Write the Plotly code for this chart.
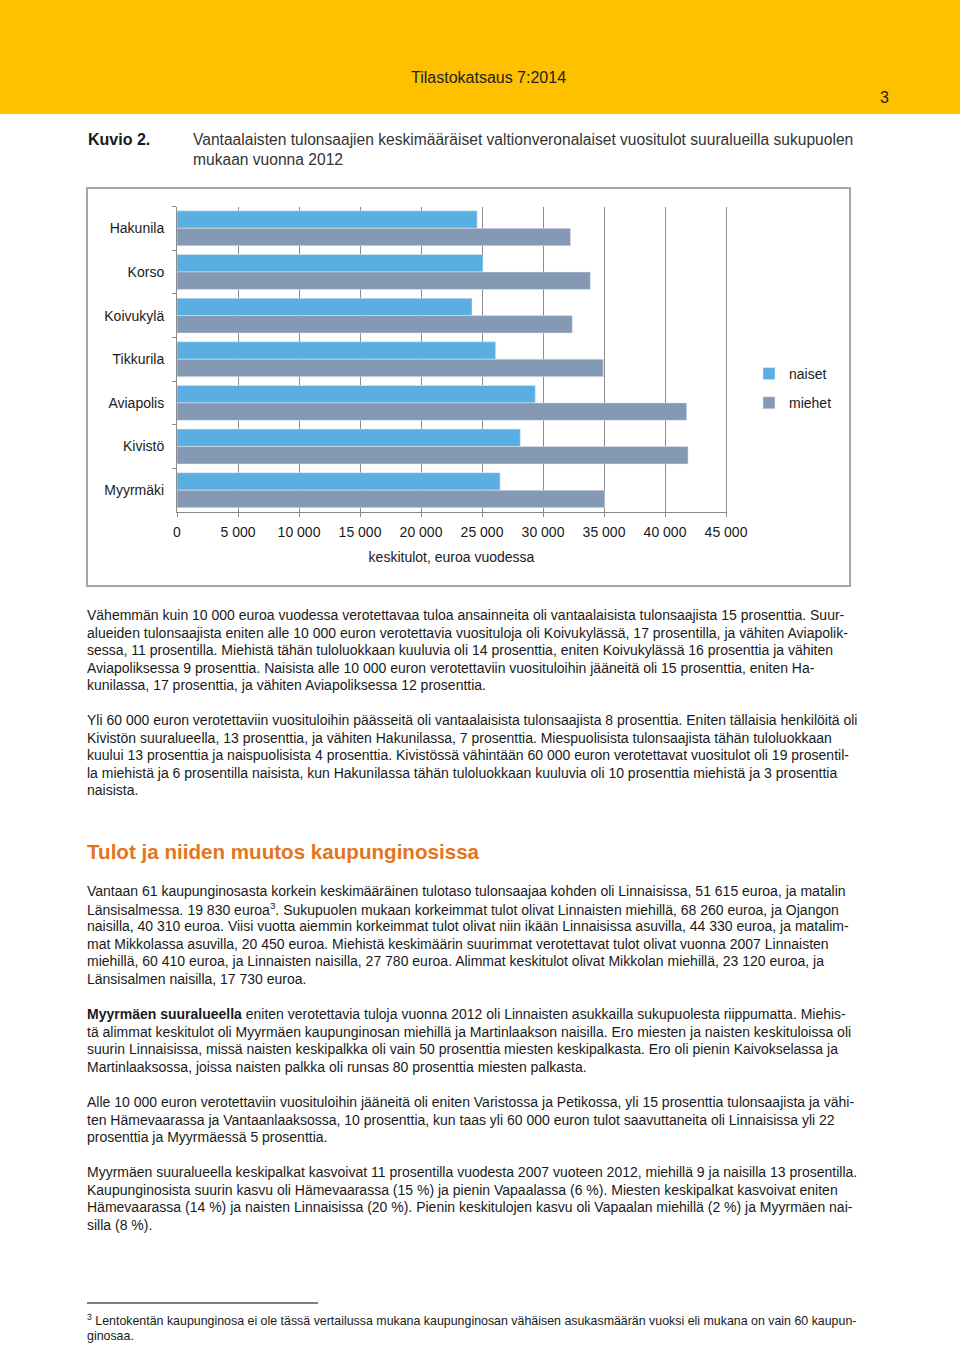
import plotly.graph_objects as go

W, H = 960, 1346

# chart data (average taxable income, euros per year, 2012)
areas = ['Hakunila', 'Korso', 'Koivukylä', 'Tikkurila', 'Aviapolis', 'Kivistö', 'Myyrmäki']
naiset = [24600, 25080, 24180, 26120, 29370, 28140, 26480]
miehet = [32260, 33880, 32400, 34940, 41780, 41890, 35050]
tick_vals = [0, 5000, 10000, 15000, 20000, 25000, 30000, 35000, 40000, 45000]
tick_labels = ['0', '5 000', '10 000', '15 000', '20 000', '25 000', '30 000', '35 000', '40 000', '45 000']

header = 'Tilastokatsaus 7:2014'
page_no = '3'
fig_label = 'Kuvio 2.'
fig_title = ['Vantaalaisten tulonsaajien keskimääräiset valtionveronalaiset vuositulot suuralueilla sukupuolen',
             'mukaan vuonna 2012']
x_title = 'keskitulot, euroa vuodessa'

para1 = ['Vähemmän kuin 10 000 euroa vuodessa verotettavaa tuloa ansainneita oli vantaalaisista tulonsaajista 15 prosenttia. Suur-',
         'alueiden tulonsaajista eniten alle 10 000 euron verotettavia vuosituloja oli Koivukylässä, 17 prosentilla, ja vähiten Aviapolik-',
         'sessa, 11 prosentilla. Miehistä tähän tuloluokkaan kuuluvia oli 14 prosenttia, eniten Koivukylässä 16 prosenttia ja vähiten',
         'Aviapoliksessa 9 prosenttia. Naisista alle 10 000 euron verotettaviin vuosituloihin jääneitä oli 15 prosenttia, eniten Ha-',
         'kunilassa, 17 prosenttia, ja vähiten Aviapoliksessa 12 prosenttia.']
para2 = ['Yli 60 000 euron verotettaviin vuosituloihin päässeitä oli vantaalaisista tulonsaajista 8 prosenttia. Eniten tällaisia henkilöitä oli',
         'Kivistön suuralueella, 13 prosenttia, ja vähiten Hakunilassa, 7 prosenttia. Miespuolisista tulonsaajista tähän tuloluokkaan',
         'kuului 13 prosenttia ja naispuolisista 4 prosenttia. Kivistössä vähintään 60 000 euron verotettavat vuositulot oli 19 prosentil-',
         'la miehistä ja 6 prosentilla naisista, kun Hakunilassa tähän tuloluokkaan kuuluvia oli 10 prosenttia miehistä ja 3 prosenttia',
         'naisista.']
heading = 'Tulot ja niiden muutos kaupunginosissa'
para3 = ['Vantaan 61 kaupunginosasta korkein keskimääräinen tulotaso tulonsaajaa kohden oli Linnaisissa, 51 615 euroa, ja matalin',
         'Länsisalmessa. 19 830 euroa<sup>3</sup>. Sukupuolen mukaan korkeimmat tulot olivat Linnaisten miehillä, 68 260 euroa, ja Ojangon',
         'naisilla, 40 310 euroa. Viisi vuotta aiemmin korkeimmat tulot olivat niin ikään Linnaisissa asuvilla, 44 330 euroa, ja matalim-',
         'mat Mikkolassa asuvilla, 20 450 euroa. Miehistä keskimäärin suurimmat verotettavat tulot olivat vuonna 2007 Linnaisten',
         'miehillä, 60 410 euroa, ja Linnaisten naisilla, 27 780 euroa. Alimmat keskitulot olivat Mikkolan miehillä, 23 120 euroa, ja',
         'Länsisalmen naisilla, 17 730 euroa.']
para4 = ['<b>Myyrmäen suuralueella</b> eniten verotettavia tuloja vuonna 2012 oli Linnaisten asukkailla sukupuolesta riippumatta. Miehis-',
         'tä alimmat keskitulot oli Myyrmäen kaupunginosan miehillä ja Martinlaakson naisilla. Ero miesten ja naisten keskituloissa oli',
         'suurin Linnaisissa, missä naisten keskipalkka oli vain 50 prosenttia miesten keskipalkasta. Ero oli pienin Kaivokselassa ja',
         'Martinlaaksossa, joissa naisten palkka oli runsas 80 prosenttia miesten palkasta.']
para5 = ['Alle 10 000 euron verotettaviin vuosituloihin jääneitä oli eniten Varistossa ja Petikossa, yli 15 prosenttia tulonsaajista ja vähi-',
         'ten Hämevaarassa ja Vantaanlaaksossa, 10 prosenttia, kun taas yli 60 000 euron tulot saavuttaneita oli Linnaisissa yli 22',
         'prosenttia ja Myyrmäessä 5 prosenttia.']
para6 = ['Myyrmäen suuralueella keskipalkat kasvoivat 11 prosentilla vuodesta 2007 vuoteen 2012, miehillä 9 ja naisilla 13 prosentilla.',
         'Kaupunginosista suurin kasvu oli Hämevaarassa (15 %) ja pienin Vapaalassa (6 %). Miesten keskipalkat kasvoivat eniten',
         'Hämevaarassa (14 %) ja naisten Linnaisissa (20 %). Pienin keskitulojen kasvu oli Vapaalan miehillä (2 %) ja Myyrmäen nai-',
         'silla (8 %).']
footnote = ['<sup>3</sup> Lentokentän kaupunginosa ei ole tässä vertailussa mukana kaupunginosan vähäisen asukasmäärän vuoksi eli mukana on vain 60 kaupun-',
            'ginosaa.']


def px(x):
    return x / W


def py(y):
    return 1 - y / H


FONT = 'Liberation Sans'
TXT = '#1a1a1a'

fig = go.Figure()
fig.add_trace(go.Bar(y=areas, x=naiset, orientation='h', name='naiset', marker_color='#5aaee2', legendgroup='a'))
fig.add_trace(go.Bar(y=areas, x=miehet, orientation='h', name='miehet', marker_color='#8499b4', legendgroup='b'))

fig.update_layout(
    width=W, height=H, margin=dict(l=0, r=0, t=0, b=0, autoexpand=False),
    paper_bgcolor='white', plot_bgcolor='white',
    font=dict(family=FONT, size=14, color=TXT),
    barmode='group', bargap=0.2, bargroupgap=0,
    showlegend=True,
    legend=dict(x=px(749), y=py(358), xanchor='left', yanchor='top', tracegroupgap=8,
                font=dict(size=14, color=TXT), bgcolor='rgba(0,0,0,0)', itemwidth=30),
    xaxis=dict(domain=[px(177), px(726)], range=[0, 45000], tickvals=tick_vals, ticktext=tick_labels,
               showgrid=True, gridcolor='#8c8c8c', gridwidth=1, zeroline=False,
               showline=True, linecolor='#8c8c8c', ticks='outside', ticklen=4, tickcolor='#8c8c8c',
               ticklabelstandoff=3, automargin=False,
               title=dict(text=x_title, font=dict(size=14), standoff=13), fixedrange=True),
    yaxis=dict(domain=[py(512), py(206.5)], autorange='reversed', categoryorder='array', categoryarray=areas,
               showline=True, mirror=True, linecolor='#8c8c8c', ticks='outside', ticklen=4, tickcolor='#8c8c8c',
               tickson='boundaries', showgrid=False, ticklabelstandoff=9, automargin=False, fixedrange=True),
)

shapes = [
    dict(type='rect', xref='paper', yref='paper', x0=0, x1=1, y0=py(114), y1=1,
         fillcolor='#ffc000', line=dict(width=0), layer='below'),
    dict(type='rect', xref='paper', yref='paper', x0=px(87), x1=px(850), y0=py(586), y1=py(188),
         line=dict(color='#a6a6a6', width=2)),
    dict(type='line', xref='paper', yref='paper', x0=px(87), x1=px(318), y0=py(1303), y1=py(1303),
         line=dict(color='#000000', width=1)),
]
fig.update_layout(shapes=shapes)

ann = []


def text(x, y, s, size=13, color=TXT, xanchor='left'):
    ann.append(dict(xref='paper', yref='paper', x=px(x), y=py(y), text=s, showarrow=False,
                    xanchor=xanchor, yanchor='middle', font=dict(family=FONT, size=size, color=color)))


text(488, 77, header, size=16, color='#222222', xanchor='center')
text(891, 98, page_no, size=16, color='#222222', xanchor='right')
text(86, 140, '<b>' + fig_label + '</b>', size=16)
for i, line in enumerate(fig_title):
    text(191, 140 + i * 19.5, line, size=15.6, color='#333333')

for lines, y0 in [(para1, 615), (para2, 720), (para3, 891), (para4, 1014), (para5, 1102), (para6, 1172)]:
    for i, line in enumerate(lines):
        text(85, y0 + i * 17.6, line, size=14)

text(85, 851, '<b>' + heading + '</b>', size=20.6, color='#e3751c')

for i, line in enumerate(footnote):
    text(85, 1320 + i * 16, line, size=12.4)

fig.update_layout(annotations=ann)

# page styling: no body margin, so the figure fills the window exactly
fig.write_html('out.html', config={'displayModeBar': False},
               post_script="document.body.style.margin='0';document.body.style.overflow='hidden';")
